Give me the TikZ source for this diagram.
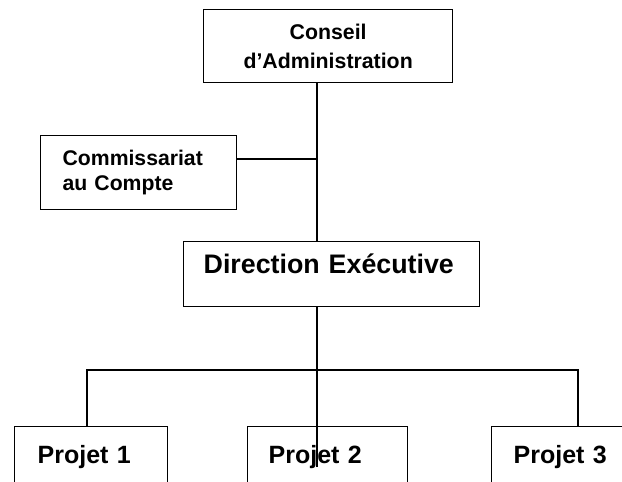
\documentclass[tikz,border=0pt]{standalone}
\usepackage{fontspec}
\setmainfont{Liberation Sans}
\begin{document}
\begin{tikzpicture}[x=1pt,y=-1pt,line width=1.3pt,
  boite/.style={draw,anchor=north west},
  projet/.style={boite,inner ysep=0pt,text height=37pt,text depth=60pt,align=left,
    font=\fontsize{25}{30}\selectfont\bfseries}]
\useasboundingbox (0,0) rectangle (622,482);
\clip (0,0) rectangle (622,482);
\node (conseil) at (203,9) [boite,minimum width=249pt,minimum height=73pt,align=center,
  font=\fontsize{21.3}{28.5}\selectfont\bfseries] {Conseil\\d’Administration};
\node (commissariat) at (40,135) [boite,text width=152pt,inner xsep=22pt,minimum height=74pt,align=left,
  font=\fontsize{21.2}{25}\selectfont\bfseries] {Commissariat\\au Compte};
\node (direction) at (183,241) [boite,text width=256pt,inner xsep=20pt,inner ysep=0pt,
  text height=32pt,text depth=33pt,align=left,font=\fontsize{26.8}{30}\selectfont\bfseries] {Direction Exécutive};
\node (projet1) at (14,426) [projet,text width=107pt,inner xsep=23pt] {Projet 1};
\node (projet2) at (247,426) [projet,text width=118pt,inner xsep=21pt] {Projet 2};
\node (projet3) at (491,426) [projet,text width=114pt,inner xsep=22pt] {Projet 3};
\coordinate (axe) at (317,370);
\coordinate (jonction) at (317,159);
\coordinate (fin) at (317,467);
\coordinate (gauche) at (87,370);
\coordinate (droite) at (578,370);
\draw (conseil.south -| axe) -- (direction.north -| axe);
\draw (commissariat.east |- jonction) -- (jonction);
\draw (direction.south -| axe) -- (fin);
\draw (projet1.north -| gauche) -- (gauche) -- (droite) -- (projet3.north -| droite);
\end{tikzpicture}
\end{document}
